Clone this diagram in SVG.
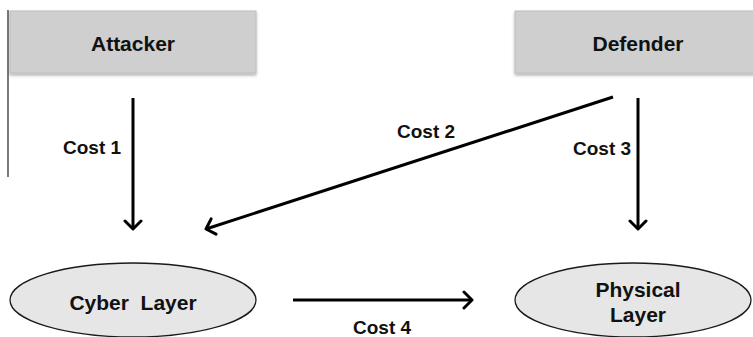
<svg xmlns="http://www.w3.org/2000/svg" width="753" height="337" viewBox="0 0 753 337">
  <defs>
    <filter id="shadow" x="-5%" y="-10%" width="110%" height="130%">
      <feDropShadow dx="0" dy="2" stdDeviation="1.5" flood-color="#000" flood-opacity="0.3"/>
    </filter>
    <marker id="chevron" viewBox="0 0 20 20" refX="16" refY="10" markerWidth="20" markerHeight="20" markerUnits="userSpaceOnUse" orient="auto">
      <path d="M8,2 L16,10 L8,18" fill="none" stroke="#000" stroke-width="3" stroke-linecap="round" stroke-linejoin="round"/>
    </marker>
  </defs>
  <style>
    .box { fill: #cfcfcf; stroke: #bdbdbd; stroke-width: 1; filter: url(#shadow); }
    .oval { fill: #e6e6e6; stroke: #1a1a1a; stroke-width: 1.3; }
    .label { font-family: "Liberation Sans", Arial, sans-serif; font-weight: bold; font-size: 21px; fill: #111; text-anchor: middle; }
    .cost { font-family: "Liberation Sans", Arial, sans-serif; font-weight: bold; font-size: 19px; fill: #111; }
    .arrow { stroke: #000; stroke-width: 3; fill: none; marker-end: url(#chevron); }
  </style>

  <rect width="753" height="337" fill="#fff"/>
  <!-- left margin rule -->
  <line x1="8" y1="10" x2="8" y2="177" stroke="#333" stroke-width="1.3"/>

  <g id="attacker">
    <rect class="box" x="10" y="11" width="246" height="62"/>
    <text class="label" x="133" y="51">Attacker</text>
  </g>

  <g id="defender">
    <rect class="box" x="515" y="11" width="245" height="62"/>
    <text class="label" x="638" y="51">Defender</text>
  </g>

  <g id="cyber-layer">
    <ellipse class="oval" cx="133" cy="300" rx="123" ry="37"/>
    <text class="label" x="133" y="310" xml:space="preserve">Cyber  Layer</text>
  </g>

  <g id="physical-layer">
    <ellipse class="oval" cx="633" cy="300" rx="118" ry="37"/>
    <text class="label" x="638" y="297">Physical</text>
    <text class="label" x="638" y="322">Layer</text>
  </g>

  <g id="connectors">
    <line class="arrow" x1="133" y1="98" x2="133" y2="229"/>
    <text class="cost" x="63" y="154">Cost 1</text>

    <line class="arrow" x1="613" y1="97" x2="206" y2="229"/>
    <text class="cost" x="397" y="138">Cost 2</text>

    <line class="arrow" x1="638" y1="98" x2="638" y2="229"/>
    <text class="cost" x="573" y="155">Cost 3</text>

    <line class="arrow" x1="293" y1="300" x2="472" y2="300"/>
    <text class="cost" x="353" y="334">Cost 4</text>
  </g>
</svg>
